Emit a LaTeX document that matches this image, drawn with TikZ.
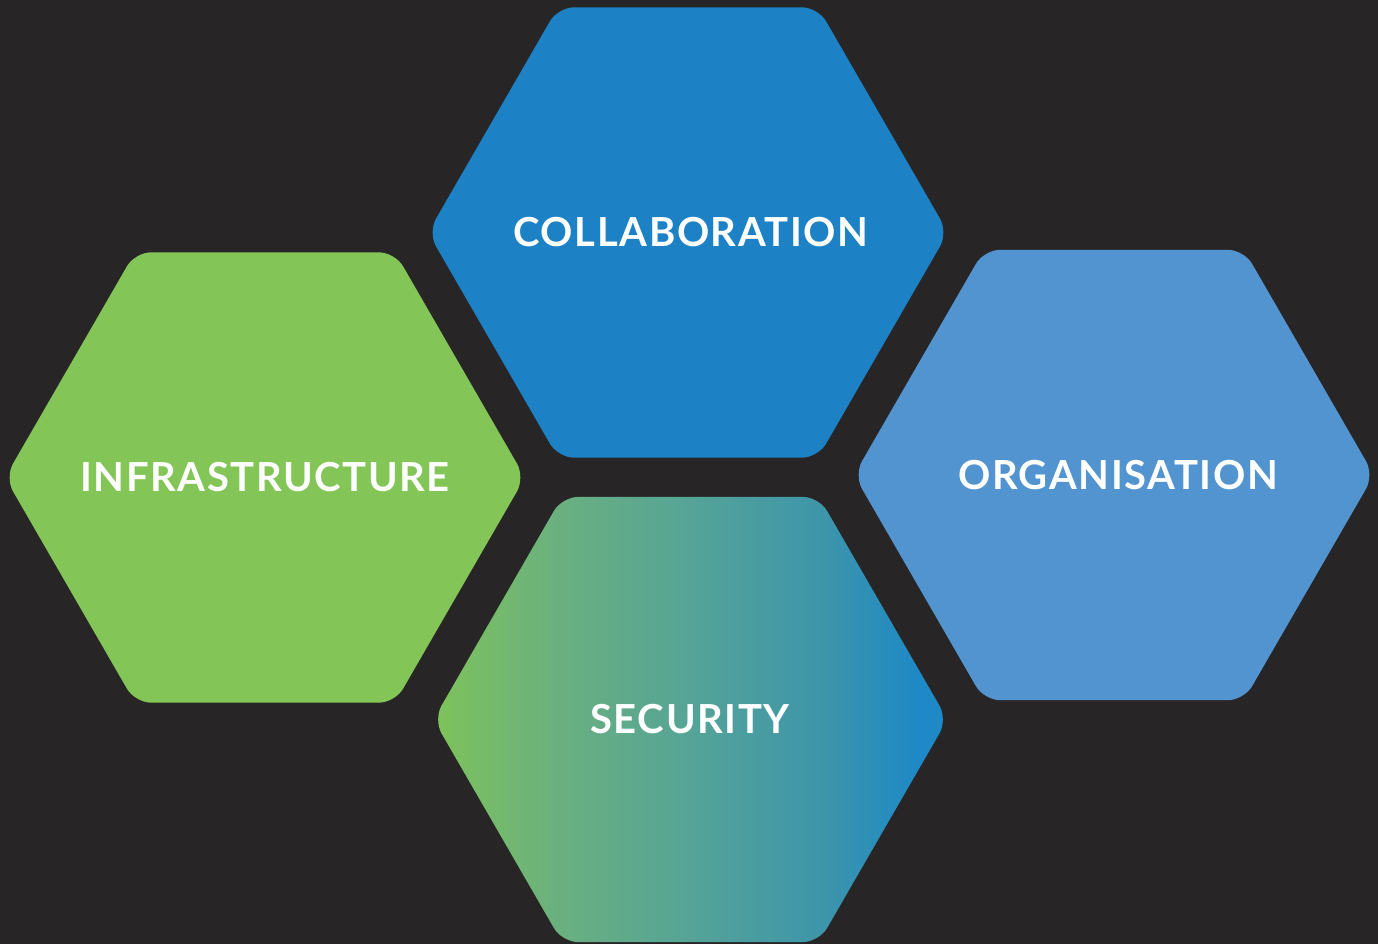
\documentclass[tikz,border=0pt]{standalone}
\usepackage{fontspec}
\setmainfont{Lato}[UprightFont={* Bold},LetterSpace=4]
\definecolor{bg}{HTML}{272526}
\definecolor{collabc}{HTML}{1C82C5}
\definecolor{infrac}{HTML}{84C557}
\definecolor{orgc}{HTML}{5294D0}
\definecolor{sA}{HTML}{7EC35A}
\definecolor{sB}{HTML}{6AB07F}
\definecolor{sC}{HTML}{55A497}
\definecolor{sD}{HTML}{3D95AA}
\definecolor{sE}{HTML}{1E89C6}
\pgfdeclarehorizontalshading{secshade}{100bp}{color(0bp)=(sA); color(25bp)=(sA); color(37bp)=(sB); color(50bp)=(sC); color(63bp)=(sD); color(72bp)=(sE); color(75bp)=(sE); color(100bp)=(sE)}
\tikzset{
  hexlabel/.style={text=white, font=\fontsize{40}{46}\selectfont, inner sep=0pt},
  hexfill/.style={rounded corners=16pt}
}
\newcommand{\hexa}[4]{% options, cx, cy, R
  \path[hexfill,#1] (#2,#3) ++(0:#4) -- ++(120:#4) -- ++(180:#4) -- ++(240:#4) -- ++(300:#4) -- ++(0:#4) -- cycle;}
\begin{document}
\begin{tikzpicture}[x=1pt,y=-1pt]
\fill[bg] (0,0) rectangle (1378,944);
\useasboundingbox (0,0) rectangle (1378,944);
\hexa{fill=collabc}{688}{232.5}{260}
\hexa{fill=infrac}{265}{477.5}{260}
\hexa{fill=orgc}{1114}{475}{260}
\hexa{shading=secshade}{690.5}{719.5}{257}
\node[hexlabel] (collab) at (691,232.5) {COLLABORATION};
\node[hexlabel] (infra) at (265,477.5) {INFRASTRUCTURE};
\node[hexlabel] (org) at (1118,475) {ORGANISATION};
\node[hexlabel] (sec) at (690,719.5) {SECURITY};
\end{tikzpicture}
\end{document}
